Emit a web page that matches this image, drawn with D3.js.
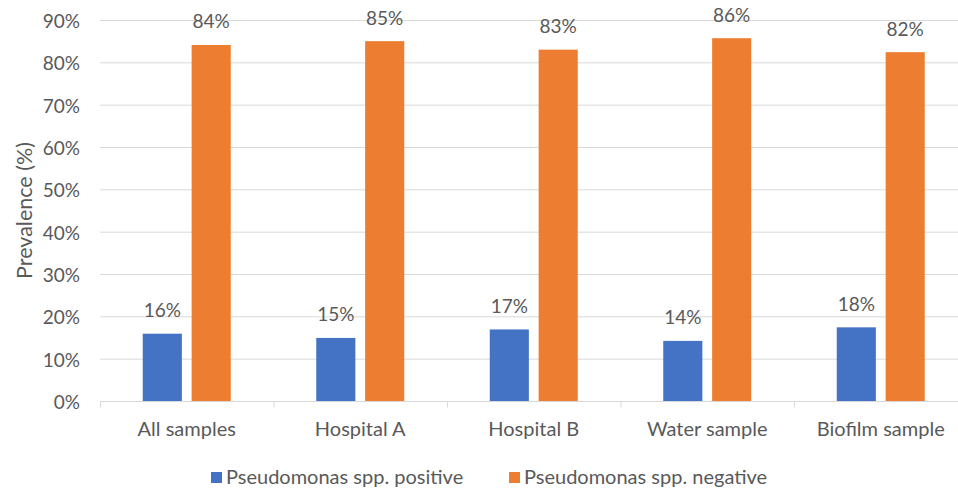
<!DOCTYPE html>
<html>
<head>
<meta charset="utf-8">
<script src="https://cdn.jsdelivr.net/npm/d3@7"></script>
<style>
  html, body { margin: 0; padding: 0; background: #ffffff; }
  svg { display: block; }
  text { font-family: Lato, "Open Sans", sans-serif; fill: #595959; }
</style>
</head>
<body>
<svg id="chart" width="958" height="489"></svg>
<script>
const categories = ["All samples", "Hospital A", "Hospital B", "Water sample", "Biofilm sample"];
const seriesNames = ["Pseudomonas spp. positive", "Pseudomonas spp. negative"];
const positiveValues = [16, 15, 17, 14, 18];
const positiveShown = [15.9, 14.9, 16.9, 14.2, 17.4];
const negativeShown = [84.1, 85.0, 83.0, 85.7, 82.4];
const negativeValues = [84, 85, 83, 86, 82];
const yTicks = [0, 10, 20, 30, 40, 50, 60, 70, 80, 90];
const colors = ["#4472C4", "#ED7D31"];

const svg = d3.select("#chart");
const fontSize = 19;

const plot = { left: 100, right: 967.5, top: 20, bottom: 401 };

const x0 = d3.scaleBand().domain(categories).range([plot.left, plot.right]).padding(0);
const x1 = d3.scaleBand().domain(seriesNames).range([-44, 44]).paddingInner(0.2);
const y = d3.scaleLinear().domain([0, 90]).range([plot.bottom, plot.top]);

// gridlines
svg.append("g")
  .selectAll("line")
  .data(yTicks.filter(d => d > 0))
  .join("line")
  .attr("x1", plot.left).attr("x2", plot.right)
  .attr("y1", d => y(d) + 0.5).attr("y2", d => y(d) + 0.5)
  .attr("stroke", "#d9d9d9").attr("stroke-width", 1);

// y axis labels
svg.append("g")
  .selectAll("text")
  .data(yTicks)
  .join("text")
  .attr("x", 80)
  .attr("y", d => y(d) + 8)
  .attr("text-anchor", "end")
  .attr("font-size", fontSize)
  .text(d => d + "%");

// x axis baseline + ticks
const xAxis = d3.axisBottom(x0).tickSize(0).tickFormat("");
const gx = svg.append("g").attr("transform", `translate(0,${plot.bottom + 0.5})`).call(xAxis);
gx.select(".domain").attr("stroke", "#d9d9d9").attr("d", `M${plot.left},0H${plot.right}`);
const boundaries = categories.map(c => x0(c));
gx.selectAll(".bound").data(boundaries).join("line").attr("class", "bound")
  .attr("x1", d => d + 0.5).attr("x2", d => d + 0.5)
  .attr("y1", 0).attr("y2", 6)
  .attr("stroke", "#d9d9d9");

// category labels
svg.append("g")
  .selectAll("text")
  .data(categories)
  .join("text")
  .attr("x", d => x0(d) + x0.bandwidth() / 2)
  .attr("y", 436)
  .attr("text-anchor", "middle")
  .attr("font-size", 20)
  .text(d => d);

// bars
const rows = categories.map((c, i) => ({
  cat: c,
  vals: [
    { s: seriesNames[0], v: positiveShown[i], label: positiveValues[i] },
    { s: seriesNames[1], v: negativeShown[i], label: negativeValues[i] }
  ]
}));

const groups = svg.append("g").selectAll("g")
  .data(rows)
  .join("g")
  .attr("transform", d => `translate(${x0(d.cat) + x0.bandwidth() / 2},0)`);

groups.selectAll("rect")
  .data(d => d.vals)
  .join("rect")
  .attr("x", d => x1(d.s))
  .attr("width", x1.bandwidth())
  .attr("y", d => y(d.v))
  .attr("height", d => y(0) - y(d.v))
  .attr("fill", (d, i) => colors[i]);

groups.selectAll("text")
  .data(d => d.vals)
  .join("text")
  .attr("x", d => x1(d.s) + x1.bandwidth() / 2)
  .attr("y", d => y(d.v) - 16.5)
  .attr("text-anchor", "middle")
  .attr("font-size", fontSize)
  .text(d => d.label + "%");

// y axis title
svg.append("text")
  .attr("transform", `translate(32,${(plot.top + plot.bottom) / 2}) rotate(-90)`)
  .attr("text-anchor", "middle")
  .attr("font-size", 21.5)
  .text("Prevalence (%)");

// legend
const legendX = [211, 509];
const legend = svg.append("g").selectAll("g")
  .data(seriesNames)
  .join("g")
  .attr("transform", (d, i) => `translate(${legendX[i]},0)`);
legend.append("rect")
  .attr("x", 0).attr("y", 472).attr("width", 11).attr("height", 11)
  .attr("fill", (d, i) => colors[i]);
legend.append("text")
  .attr("x", 15).attr("y", 484)
  .attr("font-size", 20)
  .text(d => d);
</script>
</body>
</html>
